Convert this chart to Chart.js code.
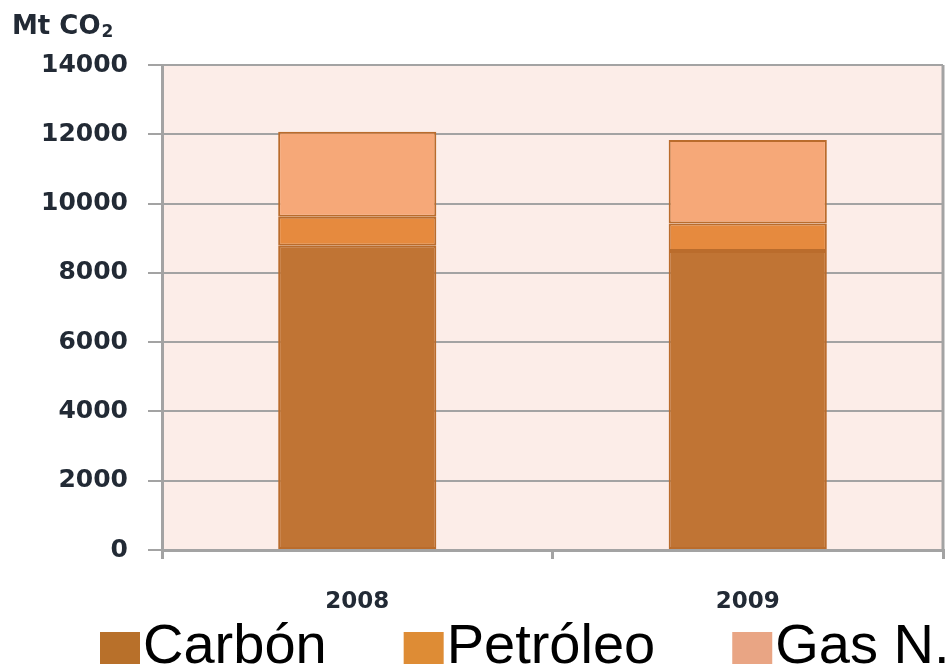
<!DOCTYPE html>
<html>
<head>
<meta charset="utf-8">
<script src="https://cdn.jsdelivr.net/npm/chart.js@4.4.0/dist/chart.umd.min.js"></script>
<style>
  html, body { margin: 0; padding: 0; background: #fff; }
  #wrap { width: 946px; height: 664px; }
</style>
</head>
<body>
<div id="wrap"><canvas id="chart"></canvas></div>
<script>
// datos (Mt CO2)
const categories = ['2008', '2009'];
const carbon = [8780, 8630];
const petroleo = [840, 795];
const gasN = [2450, 2410];
const yTicks = [0, 2000, 4000, 6000, 8000, 10000, 12000, 14000];
const seriesNames = ['Carbón', 'Petróleo', 'Gas N.'];

const barColors = ['#C07434', '#E68A3E', '#F6A878'];
const legendColors = ['#B8702A', '#DE8C35', '#E9A584'];

// fondo del area de trazado + borde derecho
const plotBg = {
    id: 'plotBg',
    beforeDraw(chart) {
        const { ctx, chartArea: a } = chart;
        ctx.save();
        ctx.fillStyle = '#FCEDE8';
        ctx.fillRect(a.left, a.top, a.right - a.left, a.bottom - a.top);
        ctx.restore();
    },
    afterDraw(chart) {
        const { ctx, chartArea: a } = chart;
        ctx.save();
        ctx.strokeStyle = '#A3A3A3';
        ctx.lineWidth = 3;
        ctx.beginPath();
        ctx.moveTo(a.right, a.top);
        ctx.lineTo(a.right, a.bottom);
        ctx.stroke();
        ctx.restore();
    }
};

// titulo del eje y y leyenda
const extras = {
    id: 'extras',
    afterDraw(chart) {
        const ctx = chart.ctx;
        ctx.save();
        ctx.fillStyle = '#222a35';
        ctx.font = 'bold 26px "DejaVu Sans"';
        ctx.textBaseline = 'alphabetic';
        ctx.fillText('Mt CO', 12, 34);
        const w = ctx.measureText('Mt CO').width;
        ctx.font = 'bold 17px "DejaVu Sans"';
        ctx.fillText('2', 12 + w + 1, 37);

        // leyenda
        ctx.font = '56px "Liberation Sans"';
        let x = 100;
        seriesNames.forEach((name, i) => {
            ctx.fillStyle = legendColors[i];
            ctx.fillRect(x, 632, 40, 34);
            ctx.fillStyle = '#000';
            ctx.fillText(name, x + 43, 663);
            x += 43 + ctx.measureText(name).width + 77;
        });
        ctx.restore();
    }
};

const ds = [carbon, petroleo, gasN].map((d, i) => ({
    label: seriesNames[i],
    data: d,
    backgroundColor: barColors[i],
    borderColor: '#BA6C2C',
    borderWidth: 2,
    borderSkipped: false,
    barPercentage: 0.405,
    categoryPercentage: 1
}));

new Chart(document.getElementById('chart'), {
    type: 'bar',
    data: { labels: categories, datasets: ds },
    options: {
        responsive: true,
        maintainAspectRatio: false,
        animation: false,
        layout: { padding: { top: 65, right: 3, left: 0, bottom: 0 } },
        plugins: { legend: { display: false }, tooltip: { enabled: false } },
        scales: {
            x: {
                stacked: true,
                afterFit(s) { s.height = 114; },
                grid: { drawOnChartArea: false, tickLength: 9, color: '#A3A3A3', lineWidth: 3 },
                border: { color: '#A3A3A3', width: 3 },
                ticks: { color: '#222a35', font: { family: 'DejaVu Sans', weight: 'bold', size: 23 }, padding: 29 }
            },
            y: {
                stacked: true,
                min: 0,
                max: 14000,
                afterFit(s) { s.width = 162; },
                afterBuildTicks(s) { s.ticks = yTicks.map(v => ({ value: v })); },
                grid: { color: '#A3A3A3', lineWidth: 2, tickLength: 14 },
                border: { color: '#A3A3A3', width: 3 },
                ticks: {
                    color: '#222a35',
                    font: { family: 'DejaVu Sans', weight: 'bold', size: 25 },
                    padding: 20,
                    callback: v => String(v)
                }
            }
        }
    },
    plugins: [plotBg, extras]
});
</script>
</body>
</html>
